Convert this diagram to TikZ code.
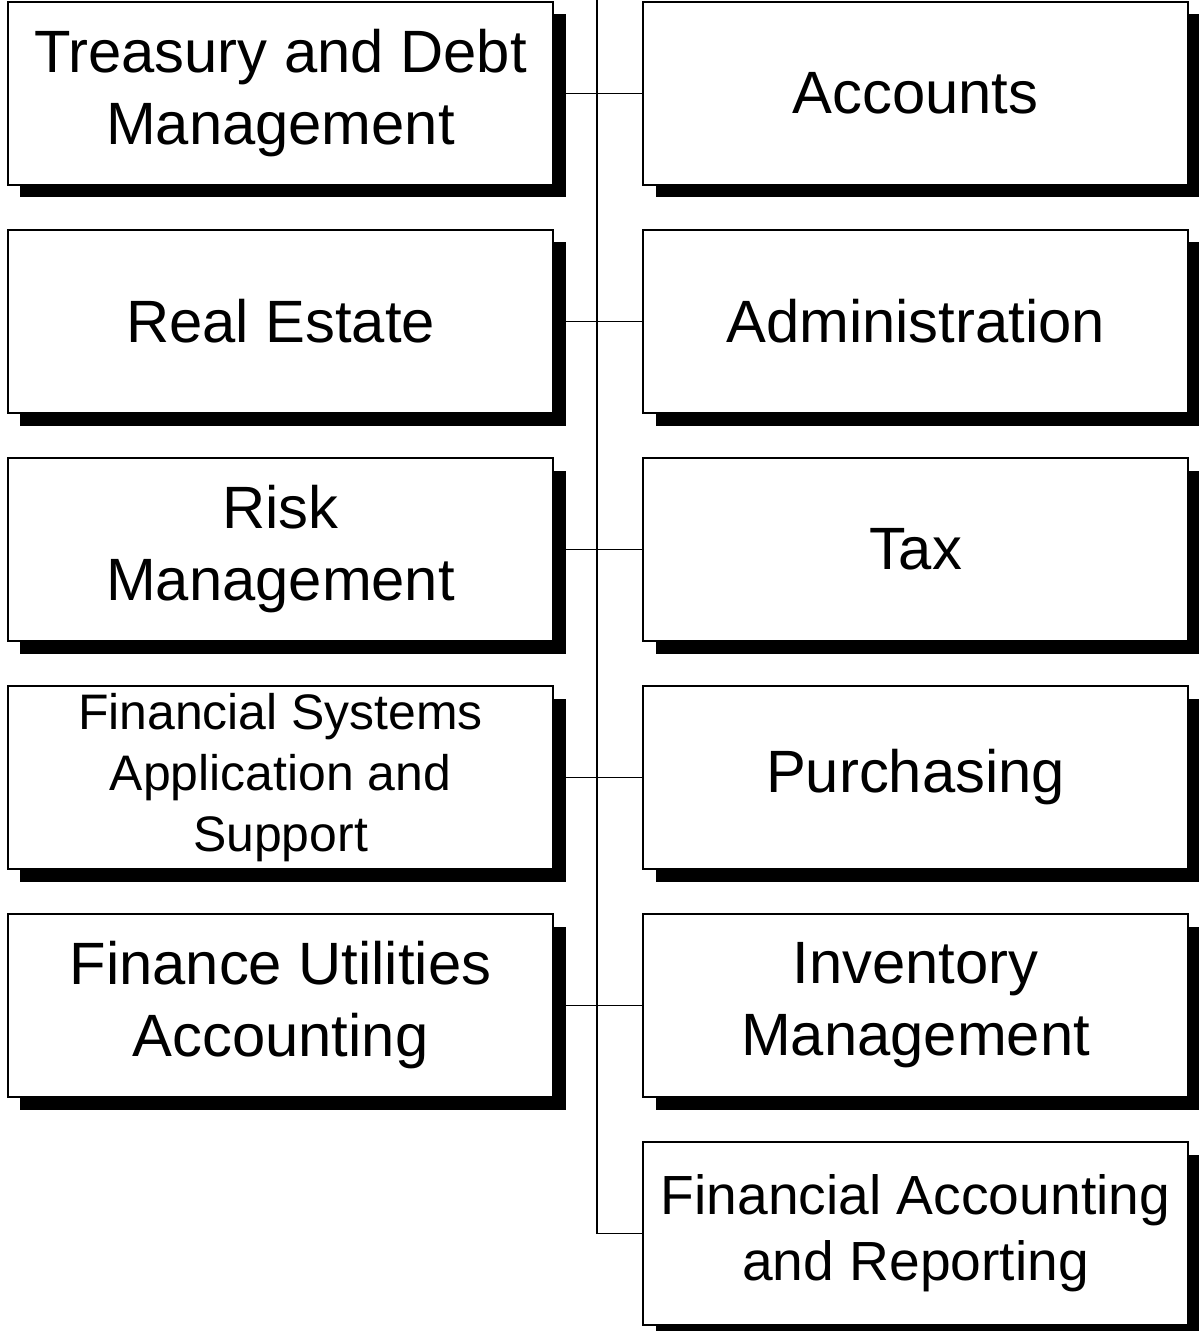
\documentclass[tikz,border=0pt]{standalone}
\usepackage{fontspec}
\setmainfont{Liberation Sans}
\usetikzlibrary{shadows,backgrounds}

\begin{document}
\begin{tikzpicture}[
    unit/.style={draw, fill=white, line width=0.5pt, minimum width=5.45cm, minimum height=1.83cm,
        align=center, inner sep=0pt,
        drop shadow={shadow xshift=0.125cm, shadow yshift=-0.125cm, fill=black, opacity=1}},
    big/.style={font=\fontsize{17}{20.5}\selectfont},
    mid/.style={font=\fontsize{15.7}{18.8}\selectfont},
    small/.style={font=\fontsize{14.2}{17.4}\selectfont},
    link/.style={line width=0.4pt}]
    \useasboundingbox (0,0) rectangle (11.99,-13.31);

    % left column
    \node[unit, big]   (tdm)  at (2.805,-0.935) {Treasury and Debt\\Management};
    \node[unit, big]   (re)   at (2.805,-3.215) {Real Estate};
    \node[unit, big]   (rm)   at (2.805,-5.495) {Risk\\Management};
    \node[unit, small] (fsas) at (2.805,-7.775) {Financial Systems\\Application and\\Support};
    \node[unit, big]   (fua)  at (2.805,-10.055) {Finance Utilities\\Accounting};

    % right column
    \node[unit, big] (acc) at (9.155,-0.935) {Accounts};
    \node[unit, big] (adm) at (9.155,-3.215) {Administration};
    \node[unit, big] (tax) at (9.155,-5.495) {Tax};
    \node[unit, big] (pur) at (9.155,-7.775) {Purchasing};
    \node[unit, big] (inv) at (9.155,-10.055) {Inventory\\Management};
    \node[unit, mid] (far) at (9.155,-12.335) {Financial Accounting\\and Reporting};

    \coordinate (spine) at (5.97,0);

    \begin{scope}[on background layer]
        \draw[link] (spine) |- (far.west);
        \draw[link] (tdm.east) -- (acc.west);
        \draw[link] (re.east) -- (adm.west);
        \draw[link] (rm.east) -- (tax.west);
        \draw[link] (fsas.east) -- (pur.west);
        \draw[link] (fua.east) -- (inv.west);
    \end{scope}
\end{tikzpicture}
\end{document}
